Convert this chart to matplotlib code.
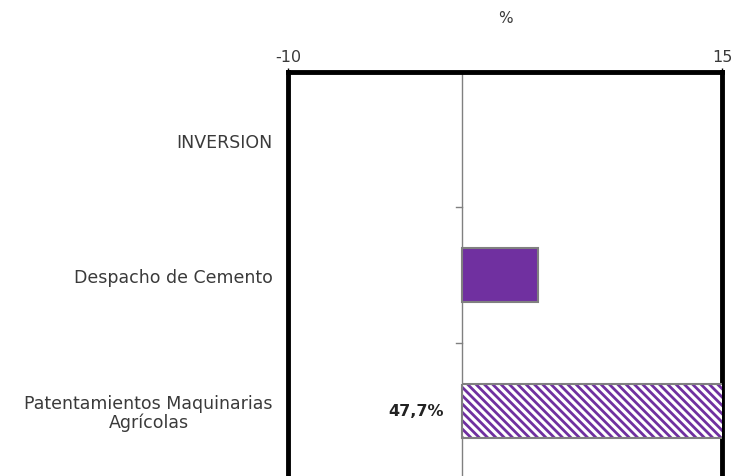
import numpy as np
from matplotlib import pyplot as plt

# Data
categories = ['INVERSION', 'Despacho de Cemento', 'Patentamientos Maquinarias\nAgrícolas']
values = [np.nan, 4.4, 47.7]
labels = ['', '', '47,7%']

purple = '#7030A0'
txt = '#3a3a3a'
plt.rcParams['font.family'] = ['DejaVu Sans']
plt.rcParams['hatch.linewidth'] = 2.0

fig = plt.figure(figsize=(7.37, 4.77), dpi=100)
ax = fig.add_axes([0.3908, -0.005, 0.589, 0.852])

y = np.arange(len(categories))
# Solid bar for cement
ax.barh(y[1], values[1], height=0.4, color=purple, edgecolor='#808080', linewidth=1.5, zorder=3)
# Hatched bar for machinery (clipped at axis limit)
ax.barh(y[2], values[2], height=0.4, color='white', edgecolor=purple, hatch='\\\\\\\\', linewidth=0, zorder=3)
ax.barh(y[2], values[2], height=0.4, fill=False, edgecolor='#808080', linewidth=1.5, zorder=4)

ax.annotate(labels[2], xy=(0, y[2]), xytext=(-13, 0), textcoords='offset points',
            ha='right', va='center', fontsize=11.5, fontweight='bold', color='#222222')

ax.set_xlim(-10, 15)
ax.set_ylim(2.5, -0.5)

# zero line with category separators
ax.axvline(0, color='#808080', linewidth=1, zorder=2)
for b in [0.5, 1.5]:
    ax.plot([-0.35, 0], [b, b], color='#808080', linewidth=1, zorder=2)

ax.xaxis.tick_top()
ax.xaxis.set_label_position('top')
ax.set_xticks([-10, 15])
ax.set_xticklabels(['-10', '15'], fontsize=11.5, color=txt)
ax.tick_params(axis='x', length=3, width=1, pad=3)
ax.set_xlabel('%', fontsize=11, color=txt, labelpad=19)

ax.set_yticks(y)
ax.set_yticklabels(categories, fontsize=12.5, color=txt, ha='right', multialignment='center',
                   linespacing=1.0)
ax.tick_params(axis='y', length=0, pad=11)

for s in ['left', 'right', 'top']:
    ax.spines[s].set_linewidth(3.5)
    ax.spines[s].set_color('black')
ax.spines['bottom'].set_visible(False)

plt.savefig('out.png', dpi=100)
